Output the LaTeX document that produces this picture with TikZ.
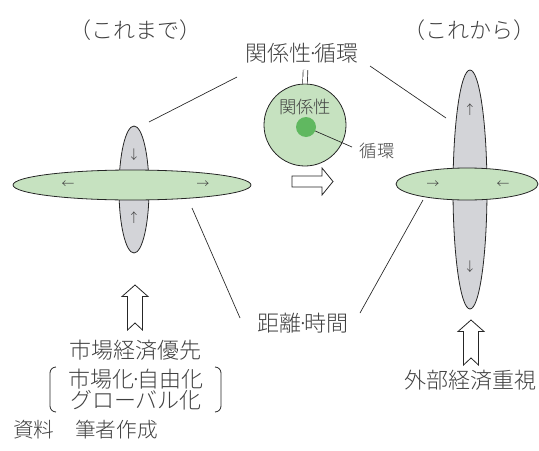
\documentclass[tikz,border=0pt]{standalone}
\usepackage{fontspec}
\IfFontExistsTF{Noto Sans CJK JP Light}{\setmainfont{Noto Sans CJK JP Light}}{\setmainfont{Noto Sans CJK JP}}
\usetikzlibrary{shapes.geometric}
\definecolor{lgreen}{RGB}{198,226,192}
\definecolor{dgreen}{RGB}{96,184,96}
\definecolor{lgrey}{RGB}{211,212,216}
\definecolor{txt}{RGB}{64,64,64}
\newcommand{\nd}{\kern-0.2em·\kern-0.2em}
\begin{document}
\begin{tikzpicture}[x=0.75pt,y=-0.75pt,
  lbl/.style={text=txt,inner sep=0pt,font=\fontsize{16.5}{18}\selectfont},
  smalllbl/.style={text=txt,inner sep=0pt,font=\fontsize{13}{14}\selectfont},
  notelbl/.style={text=txt,inner sep=0pt,font=\fontsize{15.5}{17}\selectfont},
  arrlbl/.style={text=txt,inner sep=0pt,font=\fontsize{9.5}{10}\selectfont},
  greenell/.style={ellipse,draw=black!85,fill=lgreen,line width=0.6pt,inner sep=0pt},
  greyell/.style={ellipse,draw=black!85,fill=lgrey,line width=0.6pt,inner sep=0pt},
  conn/.style={draw=black!85,line width=0.5pt},
  blockarrow/.style={draw=black!85,fill=white,line width=0.6pt,line join=miter}
]
\useasboundingbox (0,0) rectangle (539,450);

% headings
\node[lbl] (made) at (135,30) {（これまで）};
\node[lbl] (kara) at (469,30) {（これから）};
\node[lbl] (kj) at (302,53) {関係性\nd 循環};

% left structure
\node[greyell,minimum width=22.5pt,minimum height=95.25pt] (lv) at (134,189.5) {};
\node[greenell,minimum width=178.5pt,minimum height=22.5pt] (lh) at (132,185) {};
\node[arrlbl] (la1) at (134,155) {↓};
\node[arrlbl] (la2) at (134,218) {↑};
\node[arrlbl] (la3) at (68,185) {←};
\node[arrlbl] (la4) at (203,185) {→};

% right structure
\node[greyell,minimum width=25.5pt,minimum height=179.25pt] (rv) at (470,189.5) {};
\node[greenell,minimum width=106.5pt,minimum height=24pt] (rh) at (467,184) {};
\node[arrlbl] (ra1) at (470,110) {↑};
\node[arrlbl] (ra2) at (470,267) {↓};
\node[arrlbl] (ra3) at (433,185) {→};
\node[arrlbl] (ra4) at (503,185) {←};

% centre circle
\node[circle,draw=black!85,fill=lgreen,line width=0.6pt,minimum size=61.5pt,inner sep=0pt] (circ) at (305,125) {};
\node[smalllbl] (kin) at (305,107) {関係性};
\coordinate (dotend) at (352,147);
\node[smalllbl] (jl) at (377,151) {循環};
\draw[conn] (306,127) -- (dotend);
\node[circle,fill=dgreen,minimum size=15pt,inner sep=0pt] (dot) at (306,127) {};
\draw[conn,double,double distance=3pt] (305.5,70) -- (circ.north);

% right-pointing block arrow
\draw[blockarrow] (292,176) -- (322,176) -- (322,168) -- (333,181.5) -- (322,195) -- (322,187) -- (292,187) -- cycle;

% connectors
\coordinate (c1) at (237,77);
\coordinate (c2) at (149,122);
\coordinate (c3) at (370,66);
\coordinate (c4) at (446,118);
\coordinate (c5) at (192,208);
\coordinate (c6) at (240,318);
\coordinate (c7) at (423,200);
\coordinate (c8) at (360,313);
\draw[conn] (c1) -- (c2);
\draw[conn] (c3) -- (c4);
\draw[conn] (c5) -- (c6);
\draw[conn] (c7) -- (c8);

\node[lbl] (kj2) at (303,323) {距離\nd 時間};

% up arrows
\draw[blockarrow,shift={(135,307.5)}] (0,-22.5) -- (13,-11) -- (7.5,-11) -- (7.5,22.5) -- (0,15.5) -- (-7.5,22.5) -- (-7.5,-11) -- (-13,-11) -- cycle;
\draw[blockarrow,shift={(471,342.5)}] (0,-22.5) -- (13,-11) -- (7.5,-11) -- (7.5,22.5) -- (0,15.5) -- (-7.5,22.5) -- (-7.5,-11) -- (-13,-11) -- cycle;

% bottom texts
\node[lbl] (ml) at (135,350) {市場経済優先};
\node[lbl] (ml2) at (136,379) {市場化\nd 自由化};
\node[lbl] (ml3) at (136,400) {グローバル化};
\draw[conn,line width=0.6pt] (56,367) to[out=180,in=90] (50,373) -- (50,406) to[out=-90,in=180] (56,412);
\draw[conn,line width=0.6pt] (215,367) to[out=0,in=90] (221,373) -- (221,406) to[out=-90,in=0] (215,412);
\node[lbl] (gai) at (470,380) {外部経済重視};
\node[notelbl,anchor=west] (note) at (13,430) {資料　筆者作成};
\end{tikzpicture}
\end{document}
